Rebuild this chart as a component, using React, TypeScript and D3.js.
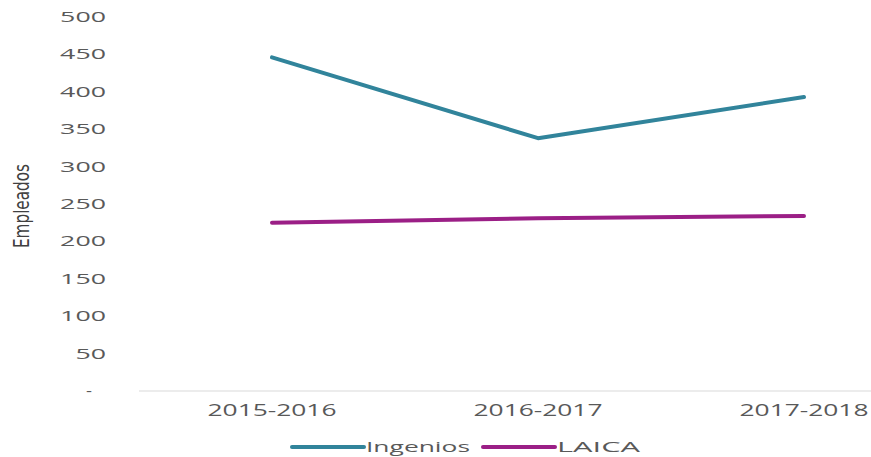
import React from "react";
import * as d3 from "d3";

const categories = ["2015-2016", "2016-2017", "2017-2018"];
const ingenios = [446, 338, 393];
const laica = [225, 231, 234];
const yTicks = [0, 50, 100, 150, 200, 250, 300, 350, 400, 450, 500];
const seriesNames = ["Ingenios", "LAICA"];
const colors = ["#31849B", "#9B1F86"];

const W = 871;
const H = 457;

export default function App() {
  const x = d3.scaleBand().domain(categories).range([139, 937]);
  const y = d3.scaleLinear().domain([0, 500]).range([391, 17]);
  const cx = (c: string) => (x(c) ?? 0) + x.bandwidth() / 2;
  const line = d3
    .line<number>()
    .x((_, i) => cx(categories[i]))
    .y((d) => y(d));
  const series = [ingenios, laica];
  const gray = "#595959";
  const numFont = "'Open Sans', 'DejaVu Sans', sans-serif";

  return (
    <svg
      width={W}
      height={H}
      style={{ position: "absolute", left: 0, top: 0, background: "#fff" }}
    >
      {/* y tick labels */}
      {yTicks.map((t) => {
        const label = t === 0 ? "-" : String(t);
        return (
          <text
            key={t}
            x={t === 0 ? 92 : 106}
            y={y(t)}
            dy="0.36em"
            textAnchor="end"
            fontFamily={numFont}
            fontSize={14}
            fill={gray}
            textLength={t === 0 ? 6 : label.length * 15.3}
            lengthAdjust="spacingAndGlyphs"
          >
            {label}
          </text>
        );
      })}
      {/* y axis title */}
      <text
        transform={`translate(29,206) rotate(-90)`}
        textAnchor="middle"
        fontFamily="'Liberation Sans Narrow', 'DejaVu Sans Condensed', sans-serif"
        fontSize={21}
        fill="#404040"
        textLength={84}
        lengthAdjust="spacingAndGlyphs"
      >
        Empleados
      </text>
      {/* x axis line */}
      <line x1={139} x2={W} y1={y(0)} y2={y(0)} stroke="#d9d9d9" strokeWidth={1} />
      {/* x labels */}
      {categories.map((c) => (
        <text
          key={c}
          x={cx(c)}
          y={416}
          textAnchor="middle"
          fontFamily={numFont}
          fontSize={16}
          fontWeight={500}
          fill={gray}
          textLength={129}
          lengthAdjust="spacingAndGlyphs"
        >
          {c}
        </text>
      ))}
      {/* lines */}
      {series.map((s, i) => (
        <path
          key={seriesNames[i]}
          d={line(s) ?? ""}
          fill="none"
          stroke={colors[i]}
          strokeWidth={4}
          strokeLinecap="round"
          strokeLinejoin="round"
        />
      ))}
      {/* legend */}
      {seriesNames.map((n, i) => {
        const lx = [292, 483][i];
        const tl = [104, 83][i];
        return (
          <g key={n}>
            <line
              x1={lx}
              x2={lx + 72}
              y1={447}
              y2={447}
              stroke={colors[i]}
              strokeWidth={4}
              strokeLinecap="round"
            />
            <text
              x={lx + 74}
              y={447}
              dy="0.36em"
              fontFamily={numFont}
              fontSize={15}
              fill={gray}
              textLength={tl}
              lengthAdjust="spacingAndGlyphs"
            >
              {n}
            </text>
          </g>
        );
      })}
    </svg>
  );
}
